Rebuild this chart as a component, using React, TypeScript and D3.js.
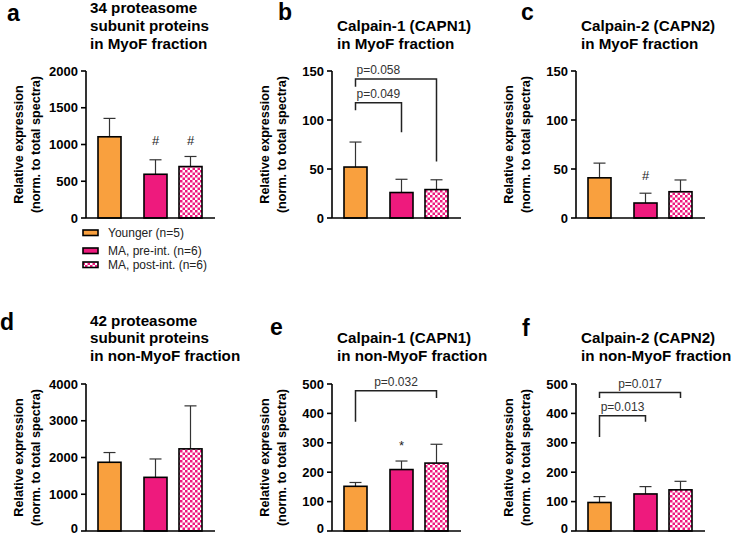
import React from "react";
import * as d3 from "d3";

// ---------- data ----------
const groups = ["Younger (n=5)", "MA, pre-int. (n=6)", "MA, post-int. (n=6)"];
const letters = ["a", "b", "c", "d", "e", "f"];
const titles = [
  ["34 proteasome", "subunit proteins", "in MyoF fraction"],
  ["Calpain-1 (CAPN1)", "in MyoF fraction"],
  ["Calpain-2 (CAPN2)", "in MyoF fraction"],
  ["42 proteasome", "subunit proteins", "in non-MyoF fraction"],
  ["Calpain-1 (CAPN1)", "in non-MyoF fraction"],
  ["Calpain-2 (CAPN2)", "in non-MyoF fraction"],
];
const yTitle = ["Relative expression", "(norm. to total spectra)"];

const meansA = [1105, 595, 700];
const errA = [250, 197, 137];
const meansB = [52, 26, 29];
const errB = [25.5, 13.5, 10];
const meansC = [41, 15.3, 26.8];
const errC = [15, 10, 12];
const meansD = [1870, 1460, 2235];
const errD = [265, 500, 1170];
const meansE = [152, 209, 231];
const errE = [13, 29, 64];
const meansF = [97, 126, 140];
const errF = [20, 25, 29];

const means = [meansA, meansB, meansC, meansD, meansE, meansF];
const errs = [errA, errB, errC, errD, errE, errF];
const yMaxes = [2000, 150, 150, 4000, 500, 500];
const tickSteps = [500, 50, 50, 1000, 100, 100];

// significance brackets: from bar, to bar, line level, leg ends, label
const bracketsB = [
  { from: 0, to: 2, level: 141.8, leftEnd: 134, rightEnd: 57.7, label: "p=0.058" },
  { from: 0, to: 1, level: 117.7, leftEnd: 110, rightEnd: 87.5, label: "p=0.049" },
];
const bracketsE = [
  { from: 0, to: 2, level: 477, leftEnd: 372, rightEnd: 452, label: "p=0.032" },
];
const bracketsF = [
  { from: 0, to: 2, level: 471, leftEnd: 452, rightEnd: 452, label: "p=0.017" },
  { from: 0, to: 1, level: 392, leftEnd: 320, rightEnd: 372, label: "p=0.013" },
];
const brackets = [[], bracketsB, [], [], bracketsE, bracketsF];

// symbol annotations (bar index, value at baseline, symbol)
const annotA = [{ bar: 1, value: 993, text: "#" }, { bar: 2, value: 993, text: "#" }];
const annotC = [{ bar: 1, value: 38.8, text: "#" }];
const annotE = [{ bar: 1, value: 275, text: "*" }];
const annots = [annotA, [], annotC, [], annotE, []];

// ---------- layout / style ----------
const W = 731;
const H = 536;
const FONT = "'Liberation Sans', Arial, sans-serif";
const ORANGE = "#F9A03E";
const MAGENTA = "#EE1A7D";
const axisXs = [86, 332, 576];
const zeroYs = [218, 531];
const plotH = 147;
const axisLen = 129;
const letterPos = [
  [7, 21], [278, 20], [521, 20], [0, 330], [270, 335], [522, 336],
];
const titleX = [90, 337, 581];
const titleLastBaseline = [48.5, 361];
const bracketAlign = [[], ["start", "start"], [], [], ["middle"], ["middle", "middle"]];
const TICK_FS = 13;

function Panel({ i }: { i: number }) {
  const col = i % 3;
  const row = Math.floor(i / 3);
  const ax = axisXs[col];
  const y0 = zeroYs[row];
  const y = d3.scaleLinear().domain([0, yMaxes[i]]).range([y0, y0 - plotH]);
  const x = d3.scaleLinear().domain([0, 1, 2]).range([ax + 23.5, ax + 69.5, ax + 104.5]);
  const bw = 23;
  const ticks = d3.range(0, yMaxes[i] + 1e-9, tickSteps[i]);
  const fills = [ORANGE, MAGENTA, "url(#checker)"];
  const t = titles[i];
  const lastB = titleLastBaseline[row];
  const yMid = (y0 + y0 - plotH) / 2;
  return (
    <g>
      <text x={letterPos[i][0]} y={letterPos[i][1]} fontSize={23} fontWeight="bold" fontFamily={FONT} fill="#000">
        {letters[i]}
      </text>
      {t.map((line, k) => (
        <text
          key={k}
          x={titleX[col]}
          y={lastB - (t.length - 1 - k) * 17.7}
          fontSize={15.2}
          fontWeight="bold"
          fontFamily={FONT}
          fill="#000"
        >
          {line}
        </text>
      ))}
      {/* y title */}
      {yTitle.map((line, k) => (
        <text
          key={k}
          transform={`translate(${ax - 63 + k * 17},${yMid}) rotate(-90)`}
          textAnchor="middle"
          fontSize={12.6}
          fontWeight="bold"
          fontFamily={FONT}
          fill="#000"
        >
          {line}
        </text>
      ))}
      {/* bars */}
      {means[i].map((m, k) => (
        <g key={k}>
          <line
            x1={x(k)}
            x2={x(k)}
            y1={y(m)}
            y2={y(m + errs[i][k])}
            stroke="#333"
            strokeWidth={1.2}
          />
          <line
            x1={x(k) - 6}
            x2={x(k) + 6}
            y1={y(m + errs[i][k])}
            y2={y(m + errs[i][k])}
            stroke="#333"
            strokeWidth={1.2}
          />
          <rect
            x={x(k) - bw / 2}
            y={y(m)}
            width={bw}
            height={y0 - y(m)}
            fill={fills[k]}
            stroke="#000"
            strokeWidth={1.6}
          />
        </g>
      ))}
      {/* axes */}
      <line x1={ax} x2={ax} y1={y0} y2={y0 - plotH} stroke="#000" strokeWidth={1.6} />
      <line x1={ax} x2={ax + axisLen} y1={y0} y2={y0} stroke="#000" strokeWidth={1.6} />
      {ticks.map((v) => {
        const base = Math.min(y(v) + TICK_FS * 0.36, H - 3.2);
        return (
          <g key={v}>
            <line x1={ax - 5} x2={ax} y1={y(v)} y2={y(v)} stroke="#000" strokeWidth={1.6} />
            <text
              x={ax - 8}
              y={base}
              textAnchor="end"
              fontSize={TICK_FS}
              fontWeight="bold"
              fontFamily={FONT}
              fill="#000"
            >
              {v}
            </text>
          </g>
        );
      })}
      {/* brackets */}
      {brackets[i].map((b, k) => {
        const xl = x(b.from);
        const xr = x(b.to);
        const ly = y(b.level);
        const align = bracketAlign[i][k];
        return (
          <g key={k}>
            <path
              d={`M${xl},${y(b.leftEnd)}V${ly}H${xr}V${y(b.rightEnd)}`}
              fill="none"
              stroke="#222"
              strokeWidth={1.5}
            />
            <text
              x={align === "start" ? xl + 1 : (xl + xr) / 2}
              y={ly - 5}
              textAnchor={align}
              fontSize={12}
              fontFamily={FONT}
              fill="#333"
            >
              {b.label}
            </text>
          </g>
        );
      })}
      {annots[i].map((a, k) => (
        <text
          key={k}
          x={x(a.bar)}
          y={y(a.value)}
          textAnchor="middle"
          fontSize={13}
          fontFamily={FONT}
          fill="#222"
        >
          {a.text}
        </text>
      ))}
    </g>
  );
}

function Legend() {
  const fills = [ORANGE, MAGENTA, "url(#checker)"];
  const tops = [230, 248, 262];
  return (
    <g>
      {groups.map((g, k) => (
        <g key={k}>
          <rect x={83} y={tops[k]} width={15} height={5.5} fill={fills[k]} stroke="#000" strokeWidth={1.6} />
          <text x={108} y={tops[k] + 6.5} fontSize={12} fontFamily={FONT} fill="#222">
            {g}
          </text>
        </g>
      ))}
    </g>
  );
}

export default function App() {
  return (
    <svg
      width={W}
      height={H}
      viewBox={`0 0 ${W} ${H}`}
      style={{ position: "absolute", left: 0, top: 0, background: "#fff" }}
    >
      <defs>
        <pattern id="checker" width={5} height={5} patternUnits="userSpaceOnUse">
          <rect width={5} height={5} fill="#fff" />
          <rect width={2.5} height={2.5} fill={MAGENTA} />
          <rect x={2.5} y={2.5} width={2.5} height={2.5} fill={MAGENTA} />
        </pattern>
      </defs>
      <rect width={W} height={H} fill="#fff" />
      {d3.range(6).map((i) => (
        <Panel key={i} i={i} />
      ))}
      <Legend />
    </svg>
  );
}
